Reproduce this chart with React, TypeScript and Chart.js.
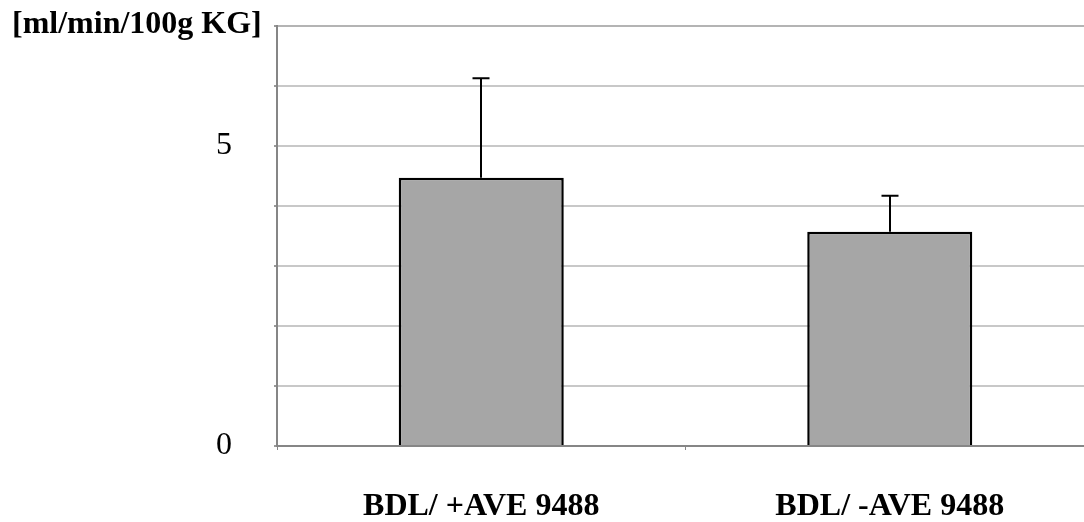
import React, { useEffect, useRef } from 'react';
import { Chart, registerables } from 'chart.js';

Chart.register(...registerables);

const categories = ['BDL/ +AVE 9488', 'BDL/ -AVE 9488'];
const means = [4.47, 3.57];
const errors = [1.66, 0.6];
const yTickLabels: Record<number, string> = { 0: '0', 5: '5' };
const yMin = 0;
const yMax = 7;
const unitLabel = '[ml/min/100g KG]';

const SERIF = "'Liberation Serif', 'Times New Roman', serif";

export default function App() {
  const ref = useRef<HTMLCanvasElement>(null);

  useEffect(() => {
    if (!ref.current) return;

    const errorBars = {
      id: 'errorBars',
      afterDatasetsDraw(chart: any) {
        const meta = chart.getDatasetMeta(0);
        const y = chart.scales.y;
        const ctx = chart.ctx;
        ctx.save();
        ctx.strokeStyle = '#000';
        ctx.lineWidth = 2;
        meta.data.forEach((bar: any, i: number) => {
          const x = Math.round(bar.x);
          const top = y.getPixelForValue(means[i] + errors[i]);
          const base = y.getPixelForValue(means[i]);
          ctx.beginPath();
          ctx.moveTo(x, base);
          ctx.lineTo(x, top);
          ctx.moveTo(x - 8.5, top);
          ctx.lineTo(x + 8.5, top);
          ctx.stroke();
        });
        ctx.restore();
      },
    };

    const unitTitle = {
      id: 'unitTitle',
      afterDraw(chart: any) {
        const ctx = chart.ctx;
        ctx.save();
        ctx.font = `bold 32px ${SERIF}`;
        ctx.fillStyle = '#000';
        ctx.textBaseline = 'alphabetic';
        ctx.textAlign = 'left';
        ctx.fillText(unitLabel, 12, 33);
        ctx.restore();
      },
    };

    const chart = new Chart(ref.current, {
      type: 'bar',
      data: {
        labels: categories,
        datasets: [
          {
            data: means,
            backgroundColor: '#a6a6a6',
            borderColor: '#000000',
            borderWidth: 2.5,
            barPercentage: 0.404,
            categoryPercentage: 1,
          },
        ],
      },
      options: {
        responsive: false,
        animation: false,
        layout: { padding: { top: 26, left: 0, right: 6, bottom: 0 } },
        plugins: {
          legend: { display: false },
          tooltip: { enabled: false },
        },
        scales: {
          x: {
            offset: true,
            grid: {
              display: true,
              offset: true,
              drawOnChartArea: false,
              drawTicks: true,
              tickLength: 4,
              color: '#868686',
              lineWidth: 1,
            },
            border: { display: true, color: '#868686', width: 2 },
            ticks: {
              font: { family: SERIF, size: 32, weight: 'bold' },
              color: '#000',
              padding: 38,
              maxRotation: 0,
              autoSkip: false,
            },
            afterFit: (s: any) => {
              s.height = 76;
              s.paddingLeft = 0;
              s.paddingRight = 0;
            },
          },
          y: {
            min: yMin,
            max: yMax,
            grid: {
              color: (c: any) =>
                c.tick && c.tick.value === 0 ? '#868686' : c.tick && c.tick.value === yMax ? '#b4b4b4' : '#c8c8c8',
              lineWidth: 2,
              tickLength: 3,
              tickColor: '#9a9a9a',
            },
            border: { display: true, color: '#868686', width: 2 },
            ticks: {
              stepSize: 1,
              callback: (v: any) => yTickLabels[v as number] ?? '',
              font: { family: SERIF, size: 32 },
              color: '#000',
              padding: 42,
            },
            afterFit: (s: any) => {
              s.width = 277;
              s.paddingTop = 0;
              s.paddingBottom = 0;
            },
          },
        },
      },
      plugins: [errorBars, unitTitle],
    });

    return () => chart.destroy();
  }, []);

  return (
    <div
      style={{
        position: 'fixed',
        left: 0,
        top: 0,
        width: 1100,
        height: 522,
        background: '#fff',
      }}
    >
      <canvas ref={ref} width={1100} height={522} style={{ display: 'block' }} />
    </div>
  );
}
